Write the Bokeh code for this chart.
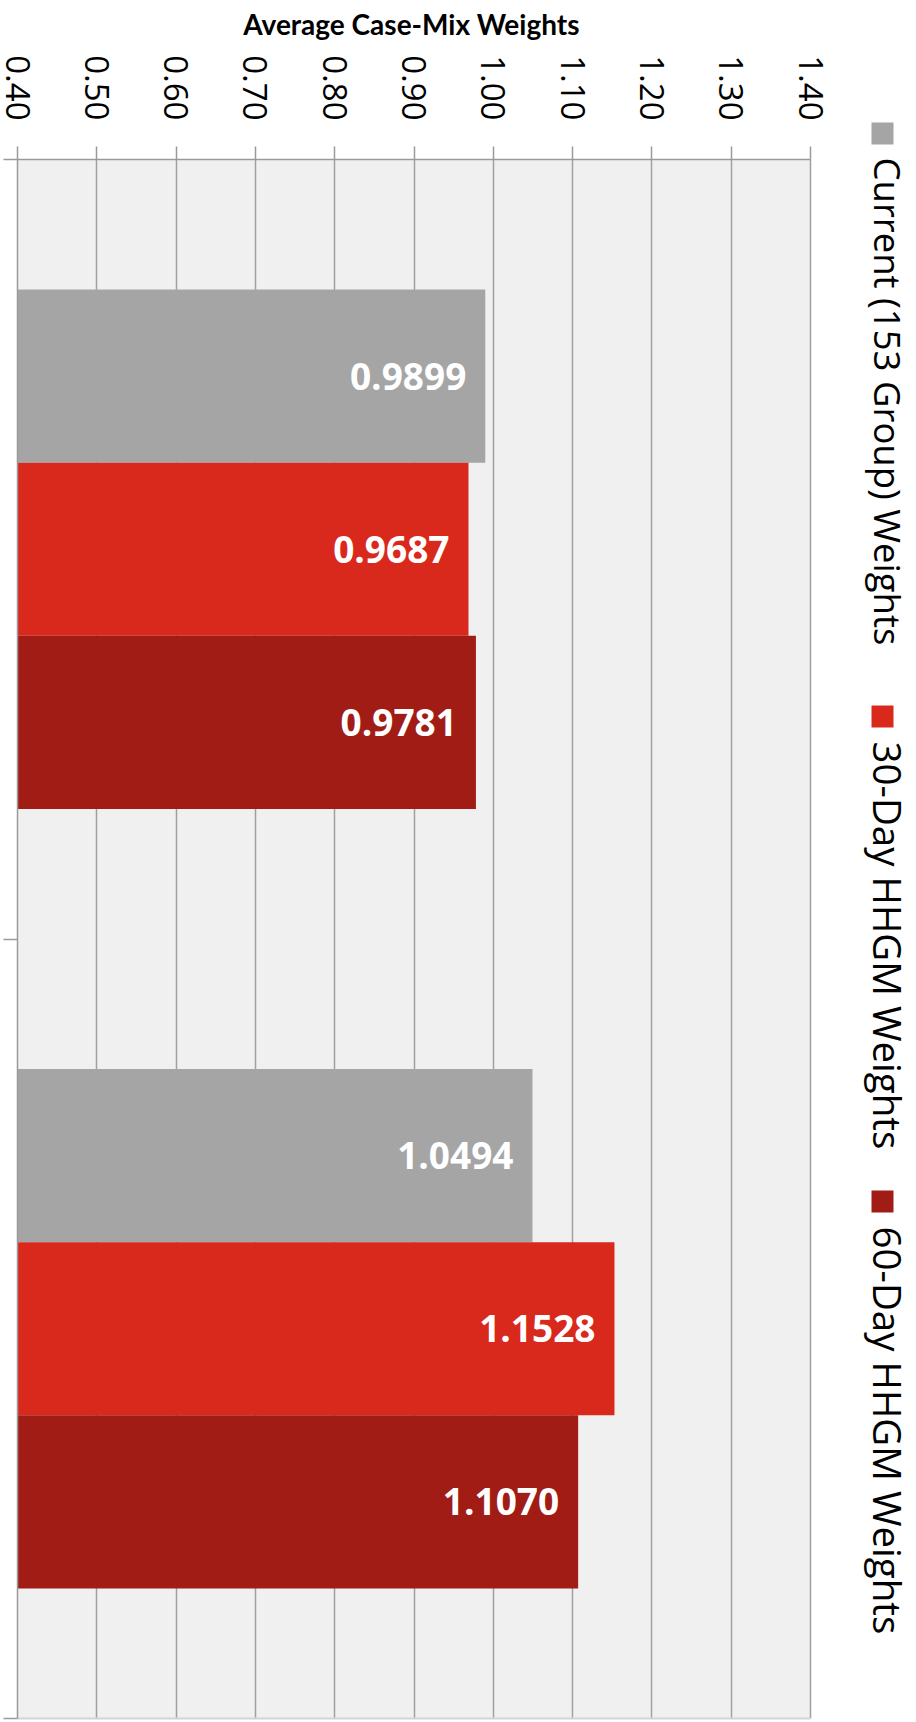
import math
from bokeh.plotting import figure
from bokeh.models import Range1d, FixedTicker, NumeralTickFormatter, LinearAxis, ColumnDataSource
from bokeh.core.properties import value
from bokeh.embed import file_html
from bokeh.resources import INLINE

# ---- data ----
title_text = "Average Case-Mix Weights"
series_names = ["Current (153 Group) Weights", "30-Day HHGM Weights", "60-Day HHGM Weights"]
series_colors = ["#A5A5A5", "#D9281C", "#A01C15"]
groups = ["Group 1", "Group 2"]          # category labels are not shown in the chart
current_153 = [0.9899, 1.0494]
hhgm_30 = [0.9687, 1.1528]
hhgm_60 = [0.9781, 1.1070]
x_ticks = [0.40, 0.50, 0.60, 0.70, 0.80, 0.90, 1.00, 1.10, 1.20, 1.30, 1.40]
series_values = [current_153, hhgm_30, hhgm_60]

# ---- layout constants (pixels) ----
W, H = 916, 1722
FRAME_L, FRAME_T, FRAME_B = 17, 159, 1718
X0, X1 = x_ticks[0], x_ticks[-1]
PX_PER_X = (810 - FRAME_L) / (X1 - X0)
PX_PER_Y = (FRAME_B - FRAME_T) / len(groups)

def sx_to_data(sx):
    return X0 + (sx - FRAME_L) / PX_PER_X

def sy_to_data(sy):
    return (sy - FRAME_T) / PX_PER_Y

bar_h = 1.0 / 4.5                 # gap width 150%
offsets = [-bar_h, 0.0, bar_h]

p = figure(width=W, height=H, output_backend="svg", toolbar_location=None,
           x_range=Range1d(X0, sx_to_data(W)), y_range=Range1d(len(groups), 0),
           x_axis_location="above",
           min_border_left=FRAME_L, min_border_right=0, min_border_top=FRAME_T,
           min_border_bottom=H - FRAME_B)
p.background_fill_color = "white"
p.border_fill_color = "white"
p.outline_line_color = None

# chart title (unclipped text above the axis)
p.text(x=[sx_to_data(411)], y=[sy_to_data(23)], text=[title_text],
       text_align="center", text_baseline="alphabetic", text_color="#000000",
       text_font=value("Lato"), text_font_style="bold", text_font_size="28px",
       level="annotation")

# plot-area fill only over the value range
p.quad(left=[X0], right=[X1], top=[0], bottom=[len(groups)], fill_color="#F0F0F0",
       line_color=None, level="image")

# top axis
xa = p.xaxis[0]
xa.ticker = FixedTicker(ticks=x_ticks)
xa.formatter = NumeralTickFormatter(format="0.00")
xa.bounds = (X0, X1)
xa.axis_line_color = "#9A9A9A"
xa.axis_line_width = 1.5
xa.major_tick_line_color = "#9A9A9A"
xa.major_tick_line_width = 1.5
xa.major_tick_out = 13
xa.major_tick_in = 0
xa.minor_tick_line_color = None
xa.major_label_orientation = -math.pi / 2
xa.major_label_text_font = "Open Sans"
xa.major_label_text_font_size = "33px"
xa.major_label_text_color = "#000000"
xa.major_label_standoff = 26

# left axis (category boundaries)
ya = p.yaxis[0]
ya.ticker = FixedTicker(ticks=list(range(len(groups) + 1)))
ya.major_label_overrides = {i: "" for i in range(len(groups) + 1)}
ya.major_label_standoff = 0
ya.axis_line_color = "#9A9A9A"
ya.axis_line_width = 1.5
ya.major_tick_line_color = "#9A9A9A"
ya.major_tick_line_width = 1.5
ya.major_tick_out = 14
ya.major_tick_in = 0
ya.minor_tick_line_color = None

# bottom light line
bx = LinearAxis(ticker=FixedTicker(ticks=[]), bounds=(X0, X1))
bx.axis_line_color = "#D4D4D4"
bx.axis_line_width = 2
bx.major_tick_line_color = None
bx.minor_tick_line_color = None
bx.major_label_standoff = 0
p.add_layout(bx, "below")

p.xgrid.ticker = FixedTicker(ticks=x_ticks)
p.xgrid.grid_line_color = "#A0A0A0"
p.xgrid.grid_line_width = 1.5
p.ygrid.visible = False

for vals, col, off in zip(series_values, series_colors, offsets):
    ys = [g + 0.5 + off for g in range(len(groups))]
    p.hbar(y=ys, left=X0, right=vals, height=bar_h, fill_color=col, line_color=None)
    p.text(x=vals, y=ys, text=[f"{v:.4f}" for v in vals], text_align="right",
           text_baseline="middle", x_offset=-19, text_color="white",
           text_font=value("Open Sans"), text_font_style="bold", text_font_size="37px")

# ---- rotated legend on the right ----
sq_sy = [133, 716, 1201]
txt_sy = [157, 741, 1226]
leg_src = ColumnDataSource(dict(
    sx=[sx_to_data(882)] * 3,
    sy=[sy_to_data(v) for v in sq_sy],
    tx=[sx_to_data(887)] * 3,
    ty=[sy_to_data(v) for v in txt_sy],
    name=series_names,
    color=series_colors,
    fs=["36.5px", "38.5px", "38.5px"],
))
p.rect(x="sx", y="sy", width=22, height=22, width_units="screen", height_units="screen",
       fill_color="color", line_color=None, source=leg_src, level="annotation")
p.text(x="tx", y="ty", text="name", angle=-math.pi / 2, text_align="left",
       text_baseline="alphabetic", text_color="#000000", text_font=value("Open Sans"),
       text_font_size="fs", source=leg_src, level="annotation")

open("out.html", "w").write(file_html(p, INLINE))
